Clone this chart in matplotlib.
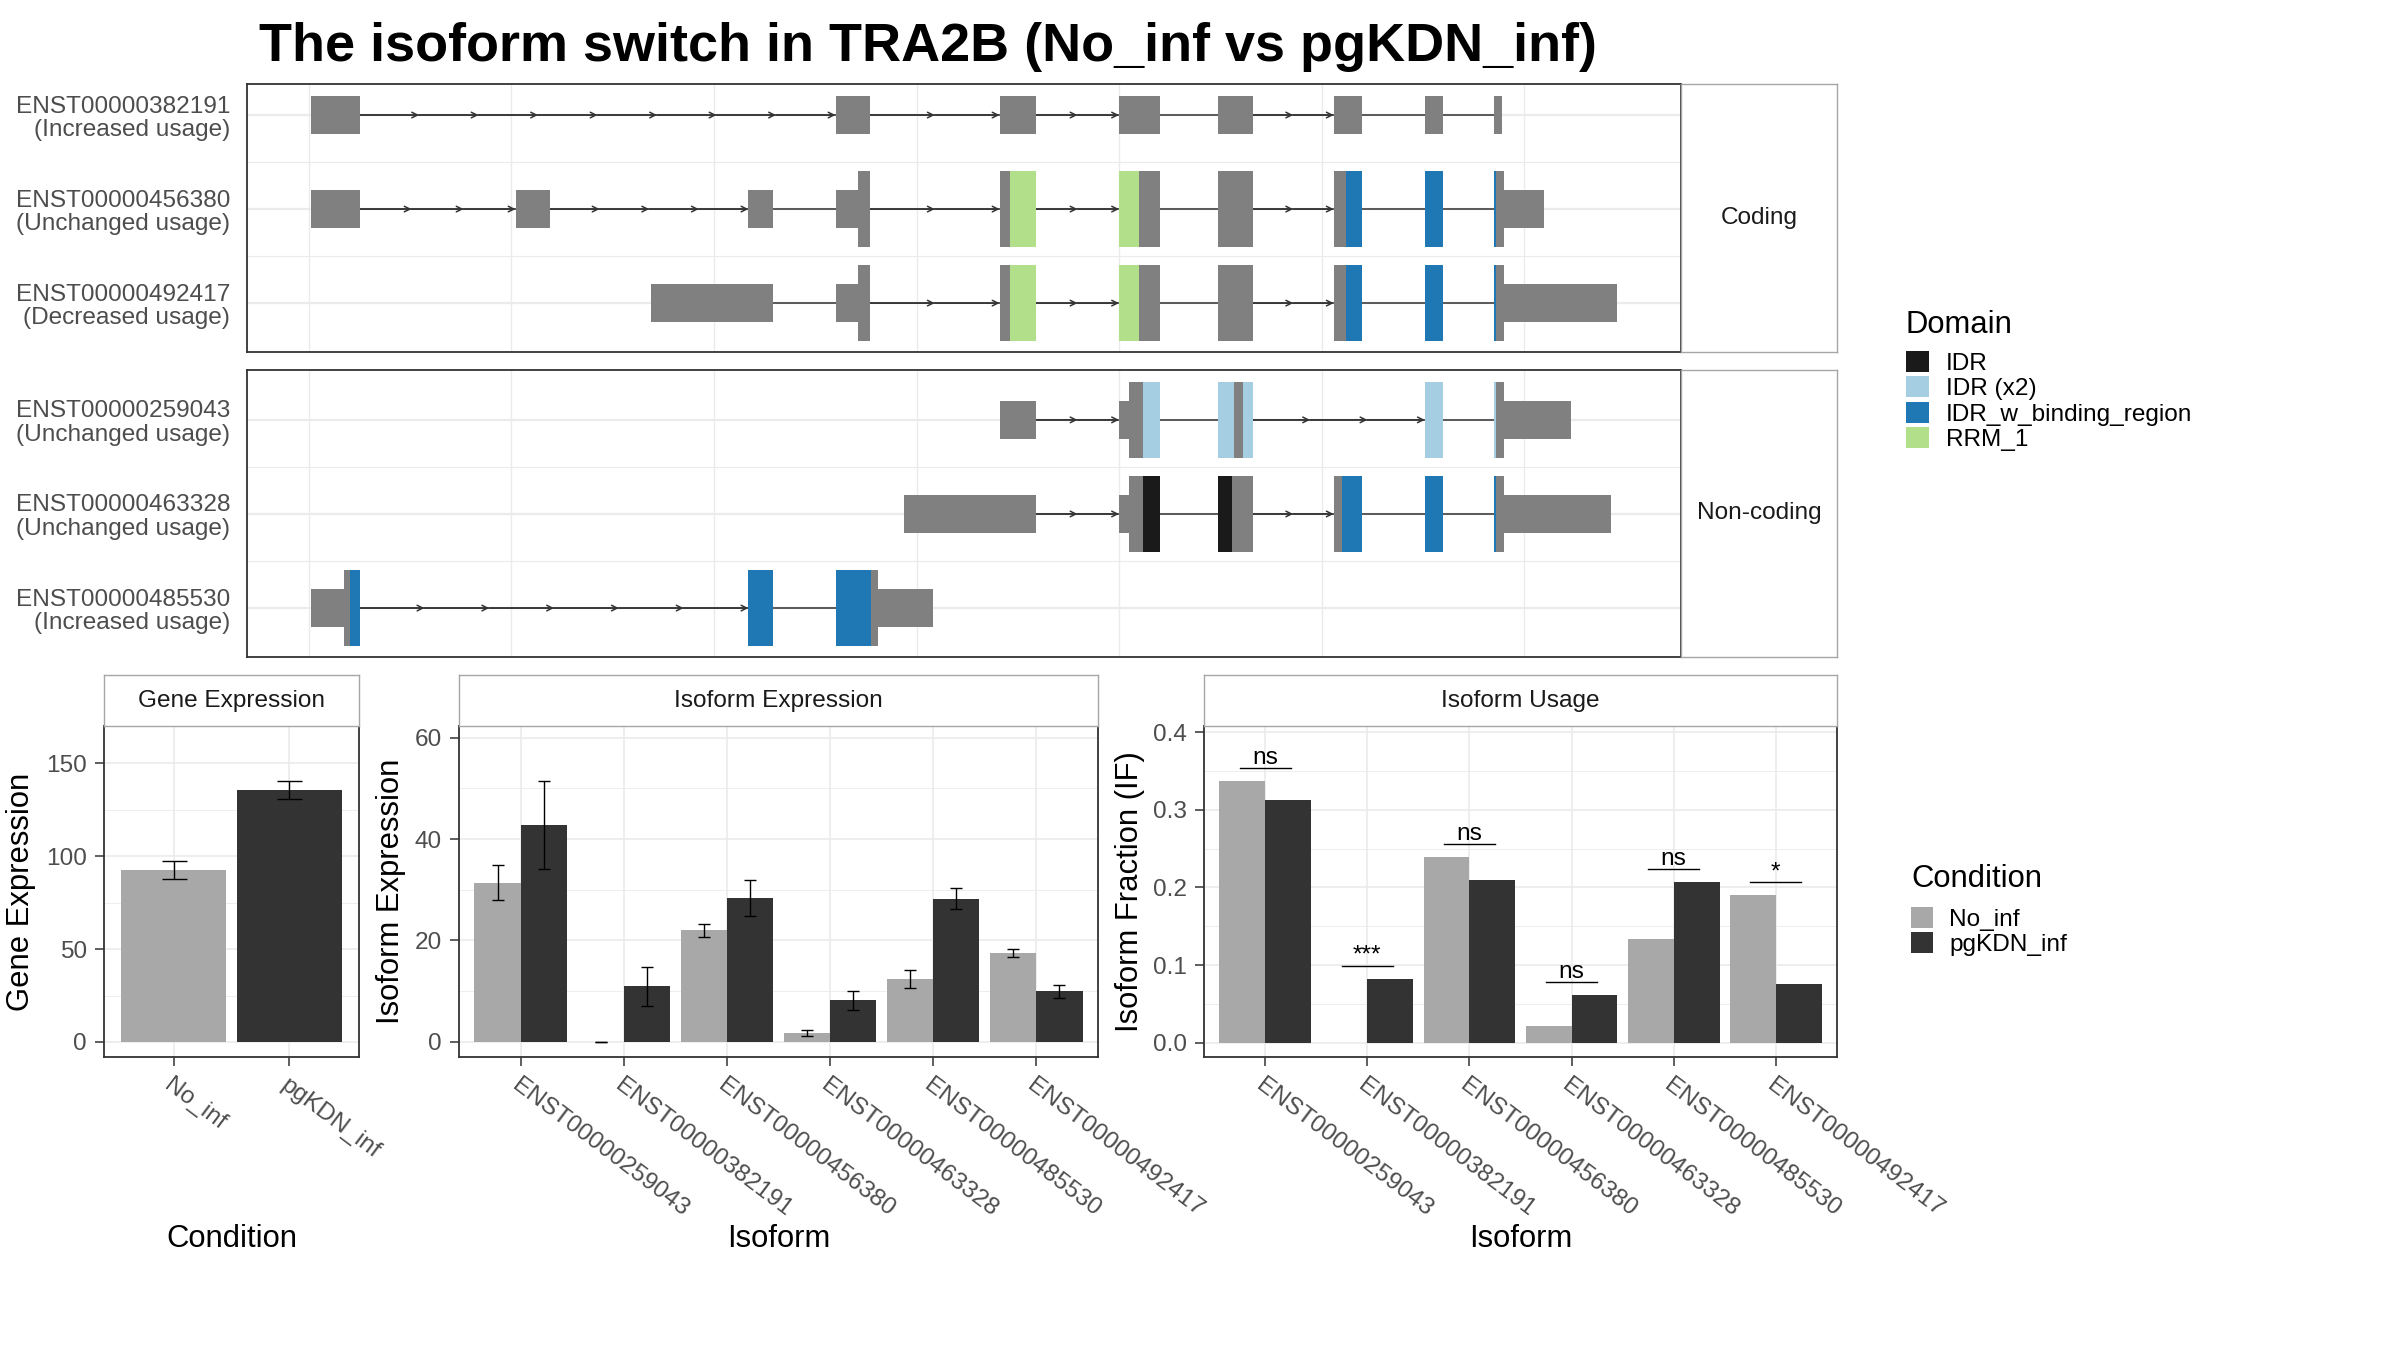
import numpy as np
import matplotlib.pyplot as plt
from matplotlib.patches import Patch

plt.rcParams['font.family'] = ['Liberation Sans', 'DejaVu Sans']

ANCHO, ALTO = 2400, 1350

TITULO = "The isoform switch in TRA2B (No_inf vs pgKDN_inf)"

condiciones = ['No_inf', 'pgKDN_inf']
colores_condicion = ['#A8A8A8', '#333333']

dominios = ['IDR', 'IDR (x2)', 'IDR_w_binding_region', 'RRM_1']
colores_dominio = ['#1A1A1A', '#A6CEE3', '#1F78B4', '#B2DF8A']

# estructura de transcriptos: (inicio, fin, tipo) en coordenada genomica reescalada
# tipo: 'utr' = exon fino, 'cds' = exon grueso, o nombre de dominio
tx_382191 = [(1, 25, 'utr'), (260, 277, 'utr'), (341, 359, 'utr'), (400, 420, 'utr'),
             (449, 466, 'utr'), (506, 520, 'utr'), (551, 560, 'utr'), (585, 589, 'utr')]
fl_382191 = [8, 2, 2, 0, 2, 0, 0]

tx_456380 = [(1, 25, 'utr'), (102, 119, 'utr'), (217, 229, 'utr'), (260, 271, 'utr'),
             (271, 277, 'cds'), (341, 346, 'cds'), (346, 359, 'RRM_1'), (400, 410, 'RRM_1'),
             (410, 420, 'cds'), (449, 466, 'cds'), (506, 512, 'cds'),
             (512, 520, 'IDR_w_binding_region'), (551, 560, 'IDR_w_binding_region'),
             (585, 586, 'IDR_w_binding_region'), (586, 590, 'cds'), (590, 610, 'utr')]
fl_456380 = [3, 4, 0, 2, 2, 0, 2, 0, 0]

tx_492417 = [(169, 229, 'utr'), (260, 271, 'utr'), (271, 277, 'cds'), (341, 346, 'cds'),
             (346, 359, 'RRM_1'), (400, 410, 'RRM_1'), (410, 420, 'cds'), (449, 466, 'cds'),
             (506, 512, 'cds'), (512, 520, 'IDR_w_binding_region'),
             (551, 560, 'IDR_w_binding_region'), (585, 586, 'IDR_w_binding_region'),
             (586, 590, 'cds'), (590, 646, 'utr')]
fl_492417 = [0, 2, 2, 0, 2, 0, 0]

tx_259043 = [(341, 359, 'utr'), (400, 405, 'utr'), (405, 412, 'cds'), (412, 420, 'IDR (x2)'),
             (449, 457, 'IDR (x2)'), (457, 461, 'cds'), (461, 466, 'IDR (x2)'),
             (551, 560, 'IDR (x2)'), (585, 586, 'IDR (x2)'), (586, 590, 'cds'), (590, 623, 'utr')]
fl_259043 = [2, 0, 3, 0]

tx_463328 = [(294, 359, 'utr'), (400, 405, 'utr'), (405, 412, 'cds'), (412, 420, 'IDR'),
             (449, 456, 'IDR'), (456, 466, 'cds'), (506, 510, 'cds'),
             (510, 520, 'IDR_w_binding_region'), (551, 560, 'IDR_w_binding_region'),
             (585, 586, 'IDR_w_binding_region'), (586, 590, 'cds'), (590, 643, 'utr')]
fl_463328 = [2, 0, 2, 0, 0]

tx_485530 = [(1, 17.5, 'utr'), (17.5, 20.3, 'cds'), (20.3, 25, 'IDR_w_binding_region'),
             (217, 229, 'IDR_w_binding_region'), (260, 277.6, 'IDR_w_binding_region'),
             (277.6, 281, 'cds'), (281, 308, 'utr')]
fl_485530 = [6, 0]

coding_ids = ['ENST00000382191', 'ENST00000456380', 'ENST00000492417']
coding_uso = ['Increased usage', 'Unchanged usage', 'Decreased usage']
coding_exones = [tx_382191, tx_456380, tx_492417]
coding_flechas = [fl_382191, fl_456380, fl_492417]

noncoding_ids = ['ENST00000259043', 'ENST00000463328', 'ENST00000485530']
noncoding_uso = ['Unchanged usage', 'Unchanged usage', 'Increased usage']
noncoding_exones = [tx_259043, tx_463328, tx_485530]
noncoding_flechas = [fl_259043, fl_463328, fl_485530]

# expresion del gen
gen_valor = [92.6, 135.6]
gen_error = [4.9, 5.0]

isoformas = ['ENST00000259043', 'ENST00000382191', 'ENST00000456380',
             'ENST00000463328', 'ENST00000485530', 'ENST00000492417']
iso_exp_no = [31.4, 0.0, 22.0, 1.7, 12.4, 17.5]
iso_err_no = [3.45, 0.0, 1.25, 0.65, 1.85, 0.8]
iso_exp_pg = [42.8, 11.0, 28.4, 8.2, 28.2, 10.0]
iso_err_pg = [8.7, 3.85, 3.6, 1.85, 2.1, 1.3]

uso_no = [0.337, 0.0, 0.239, 0.021, 0.134, 0.190]
uso_pg = [0.313, 0.082, 0.2095, 0.061, 0.207, 0.075]
uso_sig = ['ns', '***', 'ns', 'ns', 'ns', '*']

FS_TXT = 17.6
FS_TIT = 22.3
GRIS_TXT = '#4D4D4D'
GRIS_GRID = '#EBEBEB'
BORDE = '#333333'


def caja(x0, y0, x1, y1):
    return [x0 / ANCHO, 1 - y1 / ALTO, (x1 - x0) / ANCHO, (y1 - y0) / ALTO]


def tira(rect, texto):
    sax = fig.add_axes(rect)
    sax.set_xticks([])
    sax.set_yticks([])
    sax.set_facecolor('white')
    for sp in sax.spines.values():
        sp.set_color('#A6A6A6')
        sp.set_linewidth(1.0)
    sax.text(0.5, 0.5, texto, ha='center', va='center', fontsize=FS_TXT,
             color='#1A1A1A', transform=sax.transAxes)


def color_de(tipo):
    if tipo in ('utr', 'cds'):
        return '#808080'
    return colores_dominio[dominios.index(tipo)]


def panel_transcriptos(rect, ids, usos, exones, flechas, ylim):
    ax = fig.add_axes(rect)
    filas = np.arange(1, len(ids) + 1)
    for r, segs, fl in zip(filas, exones, flechas):
        bloques = []
        for s, e, k in segs:
            if bloques and s <= bloques[-1][1] + 1e-9:
                bloques[-1][1] = e
            else:
                bloques.append([s, e])
        ax.plot([bloques[0][1], bloques[-1][0]], [r, r], color='#333333', lw=1.1, zorder=2)
        for (a, b), n in zip(zip([bl[1] for bl in bloques[:-1]], [bl[0] for bl in bloques[1:]]), fl):
            if n == 0:
                continue
            pts = np.linspace(a, b, n + 1)
            for x0, x1 in zip(pts[:-1], pts[1:]):
                ax.annotate('', xy=(x1, r), xytext=(x0, r), zorder=2,
                            arrowprops=dict(arrowstyle='->', lw=1.1, color='#333333',
                                            shrinkA=0, shrinkB=0, mutation_scale=10))
        for s, e, k in segs:
            alto = 0.4 if k == 'utr' else 0.8
            ax.barh(r, e - s, left=s, height=alto, color=color_de(k), lw=0, zorder=3)

    ax.set_xlim(-30.6, 677.5)
    ax.set_ylim(*ylim)
    ax.set_xticks(np.arange(0, 700, 100))
    ax.set_yticks(filas, [f'{t}\n({u})' for t, u in zip(ids, usos)],
                  fontsize=FS_TXT, color=GRIS_TXT, linespacing=1.1)
    ax.set_yticks(filas[:-1] + 0.5, minor=True)
    ax.tick_params(axis='x', length=0, labelbottom=False)
    ax.tick_params(axis='y', which='both', length=0, pad=12)
    ax.grid(axis='x', color=GRIS_GRID, lw=1.0)
    ax.grid(axis='y', which='major', color=GRIS_GRID, lw=1.6)
    ax.grid(axis='y', which='minor', color=GRIS_GRID, lw=0.8)
    ax.set_axisbelow(True)
    for sp in ax.spines.values():
        sp.set_color(BORDE)
        sp.set_linewidth(1.3)
    return ax


def estilo_barras(ax, etiquetas, mayores, menores, ylim, ylabel, xlabel, ylab_x):
    n = len(etiquetas)
    ax.set_xlim(0.4, n + 0.6)
    ax.set_ylim(*ylim)
    ax.set_xticks(np.arange(1, n + 1), etiquetas, rotation=-37, ha='left', va='top',
                  rotation_mode='anchor', fontsize=FS_TXT, color=GRIS_TXT)
    ax.set_yticks(mayores, [f'{v:g}' for v in mayores], fontsize=FS_TXT, color=GRIS_TXT)
    ax.set_yticks(menores, minor=True)
    ax.tick_params(axis='both', which='major', length=6.2, width=1.1, color=BORDE, pad=6)
    ax.tick_params(axis='y', which='minor', length=0)
    ax.grid(which='major', color=GRIS_GRID, lw=1.2)
    ax.grid(axis='y', which='minor', color=GRIS_GRID, lw=0.6)
    ax.set_axisbelow(True)
    for sp in ax.spines.values():
        sp.set_color(BORDE)
        sp.set_linewidth(1.3)
    ax.set_ylabel(ylabel, fontsize=FS_TIT, color='black')
    ax.yaxis.label.set_va('center')
    ax.yaxis.set_label_coords(ylab_x, 0.5)
    ax.set_xlabel(xlabel, fontsize=FS_TIT, color='black')
    ax.xaxis.label.set_va('center')
    ax.xaxis.set_label_coords(0.5, -0.55)


def leyenda(colores, etiquetas, titulo, x, y_base_titulo, y_claves, ancho_clave):
    fig.text(x / ANCHO, 1 - y_base_titulo / ALTO, titulo, ha='left', va='baseline',
             fontsize=FS_TIT, color='black')
    fig.legend([Patch(facecolor=c, edgecolor='none') for c in colores], etiquetas,
               loc='upper left', bbox_to_anchor=(x / ANCHO, 1 - y_claves / ALTO),
               frameon=False, fontsize=FS_TXT, handlelength=ancho_clave,
               handleheight=0.95, handletextpad=0.68, labelspacing=0.055,
               borderpad=0, borderaxespad=0)


fig = plt.figure(figsize=(ANCHO / 100, ALTO / 100), dpi=100)

fig.text(259 / ANCHO, 1 - 61 / ALTO, TITULO, ha='left', va='baseline',
         fontsize=38.9, fontweight='bold', color='black')

# estructuras de isoformas
panel_transcriptos(caja(247, 84, 1681, 352), coding_ids, coding_uso, coding_exones,
                   coding_flechas, (3.52, 0.67))
tira(caja(1681, 84, 1837, 352), 'Coding')
panel_transcriptos(caja(247, 370, 1681, 657), noncoding_ids, noncoding_uso, noncoding_exones,
                   noncoding_flechas, (3.52, 0.47))
tira(caja(1681, 370, 1837, 657), 'Non-coding')

# expresion del gen
ax_gen = fig.add_axes(caja(104, 726, 359, 1057))
xg = np.arange(1, len(condiciones) + 1)
ax_gen.bar(xg, gen_valor, width=0.9, color=colores_condicion, zorder=2)
ax_gen.errorbar(xg, gen_valor, yerr=gen_error, fmt='none', ecolor='black',
                elinewidth=1.0, capsize=9, capthick=1.0, zorder=3)
estilo_barras(ax_gen, condiciones, [0, 50, 100, 150], [25, 75, 125], (-8.1, 170.1),
              'Gene Expression', 'Condition', -0.324)
tira(caja(104, 675, 359, 726), 'Gene Expression')

# expresion de isoformas
ax_iso = fig.add_axes(caja(459, 726, 1098, 1057))
xi = np.arange(1, len(isoformas) + 1)
for desp, vals, errs, col in [(-0.225, iso_exp_no, iso_err_no, colores_condicion[0]),
                              (0.225, iso_exp_pg, iso_err_pg, colores_condicion[1])]:
    ax_iso.bar(xi + desp, vals, width=0.45, color=col, zorder=2)
    ax_iso.errorbar(xi + desp, vals, yerr=errs, fmt='none', ecolor='black',
                    elinewidth=1.0, capsize=4.5, capthick=1.0, zorder=3)
estilo_barras(ax_iso, isoformas, [0, 20, 40, 60], [10, 30, 50], (-3.0, 62.3),
              'Isoform Expression', 'Isoform', -0.106)
tira(caja(459, 675, 1098, 726), 'Isoform Expression')

# uso de isoformas
ax_uso = fig.add_axes(caja(1204, 726, 1837, 1057))
for desp, vals, col in [(-0.225, uso_no, colores_condicion[0]),
                        (0.225, uso_pg, colores_condicion[1])]:
    ax_uso.bar(xi + desp, vals, width=0.45, color=col, zorder=2)
for x, a, b, s in zip(xi, uso_no, uso_pg, uso_sig):
    tope = max(a, b) + 0.017
    ax_uso.plot([x - 0.25, x + 0.25], [tope, tope], color='black', lw=1.0, zorder=3)
    ax_uso.text(x, tope + 0.005, s, ha='center', va='baseline', fontsize=FS_TXT, color='black')
estilo_barras(ax_uso, isoformas, [0.0, 0.1, 0.2, 0.3, 0.4], [0.05, 0.15, 0.25, 0.35],
              (-0.0185, 0.408), 'Isoform Fraction (IF)', 'Isoform', -0.117)
ax_uso.set_yticklabels(['0.0', '0.1', '0.2', '0.3', '0.4'])
tira(caja(1204, 675, 1837, 726), 'Isoform Usage')

# leyendas
leyenda(colores_dominio, dominios, 'Domain', 1906, 333, 351, 0.94)
leyenda(colores_condicion, condiciones, 'Condition', 1911, 887, 907, 0.88)

fig.savefig('out.png', dpi=100)
